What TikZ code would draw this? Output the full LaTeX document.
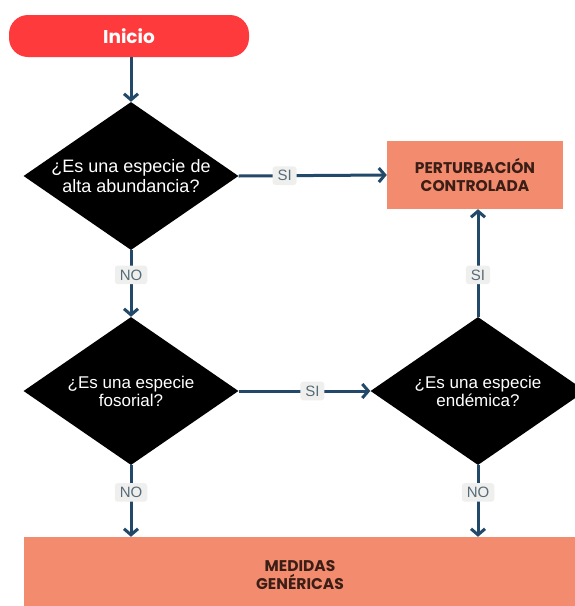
\documentclass[tikz,border=0pt]{standalone}
\usepackage{fontspec}
\setmainfont{Liberation Sans}
\newfontfamily\popfont{Poppins}
\usetikzlibrary{shapes.geometric,arrows.meta}
\definecolor{arrowblue}{HTML}{22496A}
\definecolor{startred}{HTML}{FF3A3C}
\definecolor{salmon}{HTML}{F38B6E}
\definecolor{boxtext}{HTML}{3B1E16}
\definecolor{labbg}{HTML}{EFF0EE}
\definecolor{labtext}{HTML}{566B78}
\tikzset{
  decision/.style={diamond, aspect=1.45, fill=black, text=white, inner sep=0pt,
    minimum width=215pt, minimum height=148pt, align=center,
    font=\fontsize{18}{19.5}\selectfont},
  smalldecision/.style={decision, font=\fontsize{17}{18}\selectfont},
  outbox/.style={rectangle, fill=salmon, text=boxtext, inner sep=0pt, align=center,
    font=\popfont\bfseries\fontsize{15.5}{18}\selectfont},
  startbox/.style={rectangle, rounded corners=19pt, fill=startred, text=white,
    minimum width=240pt, minimum height=42pt, inner sep=0pt,
    font=\popfont\bfseries\fontsize{18.5}{20}\selectfont},
  arr/.style={draw=arrowblue, line width=3pt,
    -{Straight Barb[length=6pt,width=14pt,line width=3pt]}},
  lab/.style={fill=labbg, text=labtext, rounded corners=3pt, inner xsep=5pt, inner ysep=4pt,
    font=\fontsize{15}{16}\selectfont}
}
\begin{document}
\begin{tikzpicture}[x=1pt,y=-1pt]
\useasboundingbox (0,0) rectangle (575,606);
\clip (0,0) rectangle (575,606);
\fill[white] (0,0) rectangle (575,606);
\node[startbox] (start) at (129,36) {Inicio};
\node[decision] (d1) at (131,176) {¿Es una especie de\\alta abundancia?};
\node[outbox, minimum width=176pt, minimum height=68pt] (pc) at (475,175) {PERTURBACIÓN\\CONTROLADA};
\node[smalldecision] (d2) at (131,391) {¿Es una especie\\fosorial?};
\node[smalldecision] (d3) at (478,391) {¿Es una especie\\endémica?};
\node[outbox, minimum width=552pt, minimum height=76pt] (mg) at (300,575) {MEDIDAS\\GENÉRICAS};
\draw[arr] (d1.north |- start.south) -- (d1.north);
\draw[arr] (d1.east) -- node[lab, pos=0.31] {SI} (pc.west);
\draw[arr] (d1.south) -- node[lab, pos=0.37] {NO} (d2.north);
\draw[arr] (d2.east) -- node[lab, pos=0.56] {SI} (d3.west);
\draw[arr] (d3.north) -- node[lab, pos=0.39] {SI} (pc.south -| d3.north);
\draw[arr] (d2.south) -- node[lab, pos=0.38] {NO} (mg.north -| d2.south);
\draw[arr] (d3.south) -- node[lab, pos=0.38] {NO} (mg.north -| d3.south);
\end{tikzpicture}
\end{document}
